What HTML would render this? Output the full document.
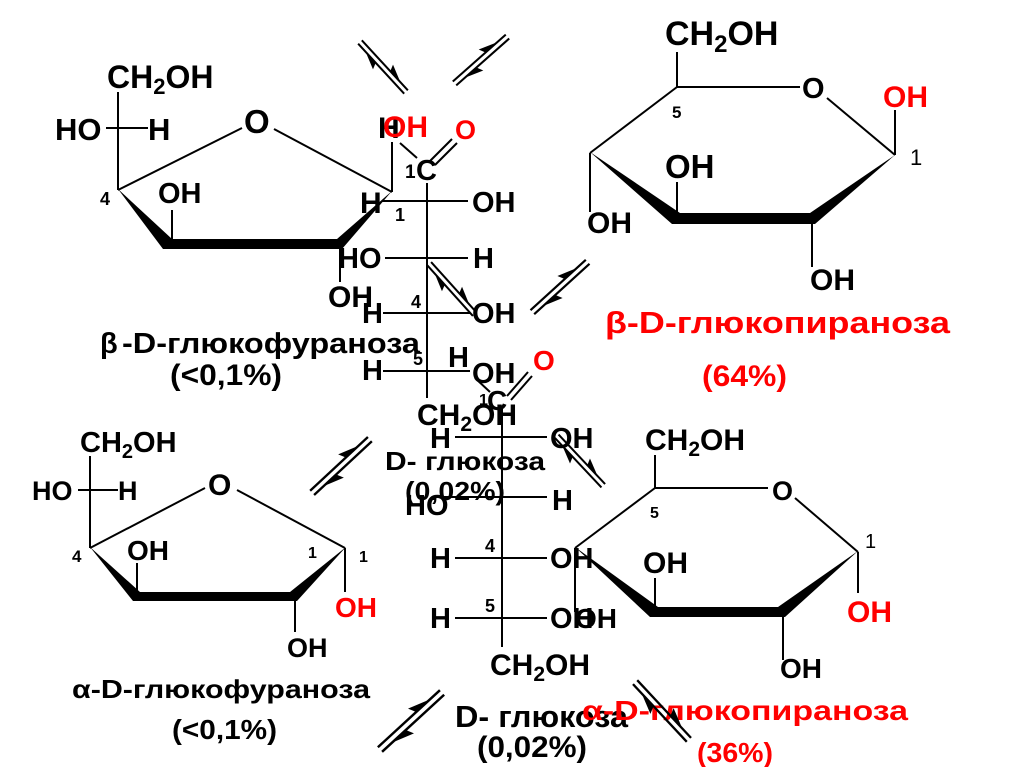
<!DOCTYPE html>
<html><head><meta charset="utf-8"><style>
html,body{margin:0;padding:0;background:#fff;}
svg{display:block;}
text{font-family:"Liberation Sans",Arial,sans-serif;font-weight:bold;fill:#000;}
.r{fill:#f00;}
.n{font-weight:normal;}
line{stroke:#000;stroke-width:2;}
</style></head><body>
<svg width="1024" height="767" viewBox="0 0 1024 767" xmlns="http://www.w3.org/2000/svg">
<defs>
<g id="eq">
  <line x1="-34" y1="-2.5" x2="34" y2="-2.5" stroke-width="1.7"/>
  <polygon points="23,-2.5 5,-9 8,-2.5"/>
  <line x1="-34" y1="2.5" x2="34" y2="2.5" stroke-width="1.7"/>
  <polygon points="-23,2.5 -5,9 -8,2.5"/>
</g>
</defs>
<rect width="1024" height="767" fill="#fff"/>

<!-- ===== beta-D-glucofuranose (top-left) ===== -->
<text x="107" y="88" font-size="32">CH<tspan font-size="22" dy="6">2</tspan><tspan dy="-6">OH</tspan></text>
<line x1="118" y1="92" x2="118" y2="190"/>
<line x1="106" y1="128" x2="148" y2="128"/>
<text x="55" y="140" font-size="31">HO</text>
<text x="148" y="140" font-size="31">H</text>
<text x="244" y="133" font-size="33">O</text>
<line x1="118" y1="190" x2="242" y2="128"/>
<line x1="274" y1="129" x2="392" y2="192"/>
<text x="100" y="205" font-size="18">4</text>
<polygon points="118,189 172,239 337,239 392,191 342,249 163,249"/>
<line x1="172" y1="210" x2="172" y2="242"/>
<text x="158" y="203" font-size="29">OH</text>
<line x1="340" y1="246" x2="340" y2="282"/>
<text x="328" y="307" font-size="30">OH</text>
<line x1="392" y1="192" x2="392" y2="142"/>
<text x="378" y="138" font-size="30">H</text>
<text x="383" y="137" font-size="30" class="r">OH</text>
<text x="360" y="213" font-size="30">H</text>
<text x="395" y="221" font-size="18">1</text>
<text x="100" y="353" font-size="29">β</text>
<text x="122" y="353" font-size="29" textLength="298" lengthAdjust="spacingAndGlyphs">-D-глюкофураноза</text>
<text x="170" y="385" font-size="30" textLength="112" lengthAdjust="spacingAndGlyphs">(&lt;0,1%)</text>

<!-- ===== Fischer 1 ===== -->
<line x1="400" y1="143" x2="417" y2="158"/>
<text x="405" y="178" font-size="19">1</text>
<text x="416" y="180" font-size="29">C</text>
<line x1="430" y1="161" x2="452" y2="139"/>
<line x1="435" y1="165" x2="457" y2="143"/>
<text x="455" y="139" font-size="27" class="r">O</text>
<line x1="427" y1="183" x2="427" y2="398"/>
<line x1="382" y1="201" x2="468" y2="201"/>
<text x="472" y="212" font-size="29">OH</text>
<line x1="385" y1="258" x2="468" y2="258"/>
<text x="338" y="268" font-size="29">HO</text>
<text x="473" y="268" font-size="29">H</text>
<line x1="383" y1="313" x2="470" y2="313"/>
<text x="362" y="323" font-size="29">H</text>
<text x="472" y="323" font-size="29">OH</text>
<text x="411" y="308" font-size="18">4</text>
<line x1="383" y1="371" x2="470" y2="371"/>
<text x="362" y="380" font-size="29">H</text>
<text x="413" y="365" font-size="18">5</text>
<text x="472" y="383" font-size="29">OH</text>
<text x="417" y="425" font-size="30">CH<tspan font-size="21" dy="6">2</tspan><tspan dy="-6">OH</tspan></text>

<!-- ===== Fischer 2 ===== -->
<text x="448" y="367" font-size="29">H</text>
<line x1="475" y1="378" x2="490" y2="392"/>
<text x="479" y="405" font-size="16">1</text>
<text x="487" y="410" font-size="28">C</text>
<line x1="507" y1="396" x2="528" y2="372"/>
<line x1="511" y1="400" x2="532" y2="376"/>
<text x="533" y="370" font-size="28" class="r">O</text>
<line x1="502" y1="407" x2="502" y2="647"/>
<line x1="455" y1="437" x2="547" y2="437"/>
<text x="430" y="448" font-size="29">H</text>
<text x="550" y="448" font-size="29">OH</text>
<text x="385" y="470" font-size="26" textLength="160" lengthAdjust="spacingAndGlyphs">D- глюкоза</text>
<line x1="440" y1="497" x2="547" y2="497"/>
<text x="405" y="500" font-size="26" textLength="100" lengthAdjust="spacingAndGlyphs">(0,02%)</text>
<text x="405" y="515" font-size="29">HO</text>
<text x="552" y="510" font-size="29">H</text>
<line x1="455" y1="558" x2="547" y2="558"/>
<text x="430" y="568" font-size="29">H</text>
<text x="550" y="568" font-size="29">OH</text>
<text x="485" y="552" font-size="18">4</text>
<line x1="455" y1="618" x2="547" y2="618"/>
<text x="430" y="628" font-size="29">H</text>
<text x="550" y="628" font-size="29">OH</text>
<text x="485" y="612" font-size="18">5</text>
<text x="490" y="675" font-size="30">CH<tspan font-size="21" dy="6">2</tspan><tspan dy="-6">OH</tspan></text>
<text x="455" y="727" font-size="31" textLength="173" lengthAdjust="spacingAndGlyphs">D- глюкоза</text>
<text x="477" y="757" font-size="30" textLength="110" lengthAdjust="spacingAndGlyphs">(0,02%)</text>

<!-- ===== beta-D-glucopyranose (top-right) ===== -->
<text x="665" y="45" font-size="34">CH<tspan font-size="24" dy="7">2</tspan><tspan dy="-7">OH</tspan></text>
<line x1="677" y1="52" x2="677" y2="87"/>
<line x1="677" y1="87" x2="800" y2="87"/>
<text x="802" y="98" font-size="29">O</text>
<line x1="827" y1="98" x2="895" y2="155"/>
<line x1="895" y1="155" x2="895" y2="110"/>
<text x="883" y="107" font-size="30" class="r">OH</text>
<text x="910" y="165" font-size="22" class="n">1</text>
<text x="672" y="118" font-size="17">5</text>
<line x1="677" y1="87" x2="590" y2="153"/>
<line x1="590" y1="153" x2="590" y2="212"/>
<text x="587" y="233" font-size="30">OH</text>
<polygon points="590,152 680,213 810,213 895,155 815,224 672,224"/>
<line x1="677" y1="182" x2="677" y2="215"/>
<text x="665" y="178" font-size="33">OH</text>
<line x1="812" y1="220" x2="812" y2="267"/>
<text x="810" y="290" font-size="30">OH</text>
<text x="605" y="333" font-size="31" class="r" textLength="345" lengthAdjust="spacingAndGlyphs">β-D-глюкопираноза</text>
<text x="702" y="386" font-size="30" class="r" textLength="85" lengthAdjust="spacingAndGlyphs">(64%)</text>

<!-- ===== alpha-D-glucofuranose (bottom-left) ===== -->
<text x="80" y="452" font-size="29">CH<tspan font-size="20" dy="6">2</tspan><tspan dy="-6">OH</tspan></text>
<line x1="90" y1="456" x2="90" y2="548"/>
<line x1="78" y1="490" x2="118" y2="490"/>
<text x="32" y="500" font-size="27">HO</text>
<text x="118" y="500" font-size="27">H</text>
<text x="208" y="495" font-size="30">O</text>
<line x1="90" y1="548" x2="205" y2="488"/>
<line x1="237" y1="490" x2="345" y2="548"/>
<text x="72" y="562" font-size="17">4</text>
<polygon points="90,547 140,592 290,592 346,547 297,601 133,601"/>
<line x1="137" y1="563" x2="137" y2="594"/>
<text x="127" y="560" font-size="28">OH</text>
<line x1="295" y1="600" x2="295" y2="632"/>
<text x="287" y="657" font-size="27">OH</text>
<line x1="345" y1="548" x2="345" y2="592"/>
<text x="335" y="617" font-size="28" class="r">OH</text>
<text x="308" y="558" font-size="16">1</text>
<text x="359" y="562" font-size="16">1</text>
<text x="72" y="698" font-size="26" textLength="298" lengthAdjust="spacingAndGlyphs">α-D-глюкофураноза</text>
<text x="172" y="739" font-size="28" textLength="105" lengthAdjust="spacingAndGlyphs">(&lt;0,1%)</text>

<!-- ===== alpha-D-glucopyranose (bottom-right) ===== -->
<text x="645" y="450" font-size="30">CH<tspan font-size="21" dy="6">2</tspan><tspan dy="-6">OH</tspan></text>
<line x1="655" y1="455" x2="655" y2="488"/>
<line x1="655" y1="488" x2="768" y2="488"/>
<text x="772" y="500" font-size="27">O</text>
<line x1="795" y1="498" x2="858" y2="552"/>
<text x="865" y="548" font-size="20" class="n">1</text>
<text x="650" y="518" font-size="16">5</text>
<line x1="655" y1="488" x2="575" y2="548"/>
<line x1="575" y1="548" x2="575" y2="612"/>
<polygon points="575,547 658,607 778,607 858,551 785,617 650,617"/>
<line x1="655" y1="578" x2="655" y2="610"/>
<text x="643" y="573" font-size="30">OH</text>
<line x1="783" y1="615" x2="783" y2="660"/>
<text x="780" y="678" font-size="28">OH</text>
<line x1="858" y1="552" x2="858" y2="593"/>
<text x="847" y="622" font-size="30" class="r">OH</text>
<text x="575" y="628" font-size="28">OH</text>
<text x="582" y="720" font-size="28" class="r" textLength="326" lengthAdjust="spacingAndGlyphs">α-D-глюкопираноза</text>
<text x="697" y="762" font-size="28" class="r" textLength="76" lengthAdjust="spacingAndGlyphs">(36%)</text>

<!-- ===== equilibrium arrows ===== -->
<use href="#eq" transform="translate(383,67) rotate(47.4)"/>
<use href="#eq" transform="translate(481,60) rotate(-41.5) scale(1.04)"/>
<use href="#eq" transform="translate(560,287) rotate(-42.3) scale(1.1)"/>
<use href="#eq" transform="translate(452,289) rotate(48) scale(1.0)"/>
<use href="#eq" transform="translate(341,466) rotate(-42.9) scale(1.16)"/>
<use href="#eq" transform="translate(580,461) rotate(46.8) scale(1.0)"/>
<use href="#eq" transform="translate(411,721) rotate(-42.6) scale(1.24)"/>
<use href="#eq" transform="translate(662,711) rotate(47) scale(1.16)"/>
</svg>
</body></html>
